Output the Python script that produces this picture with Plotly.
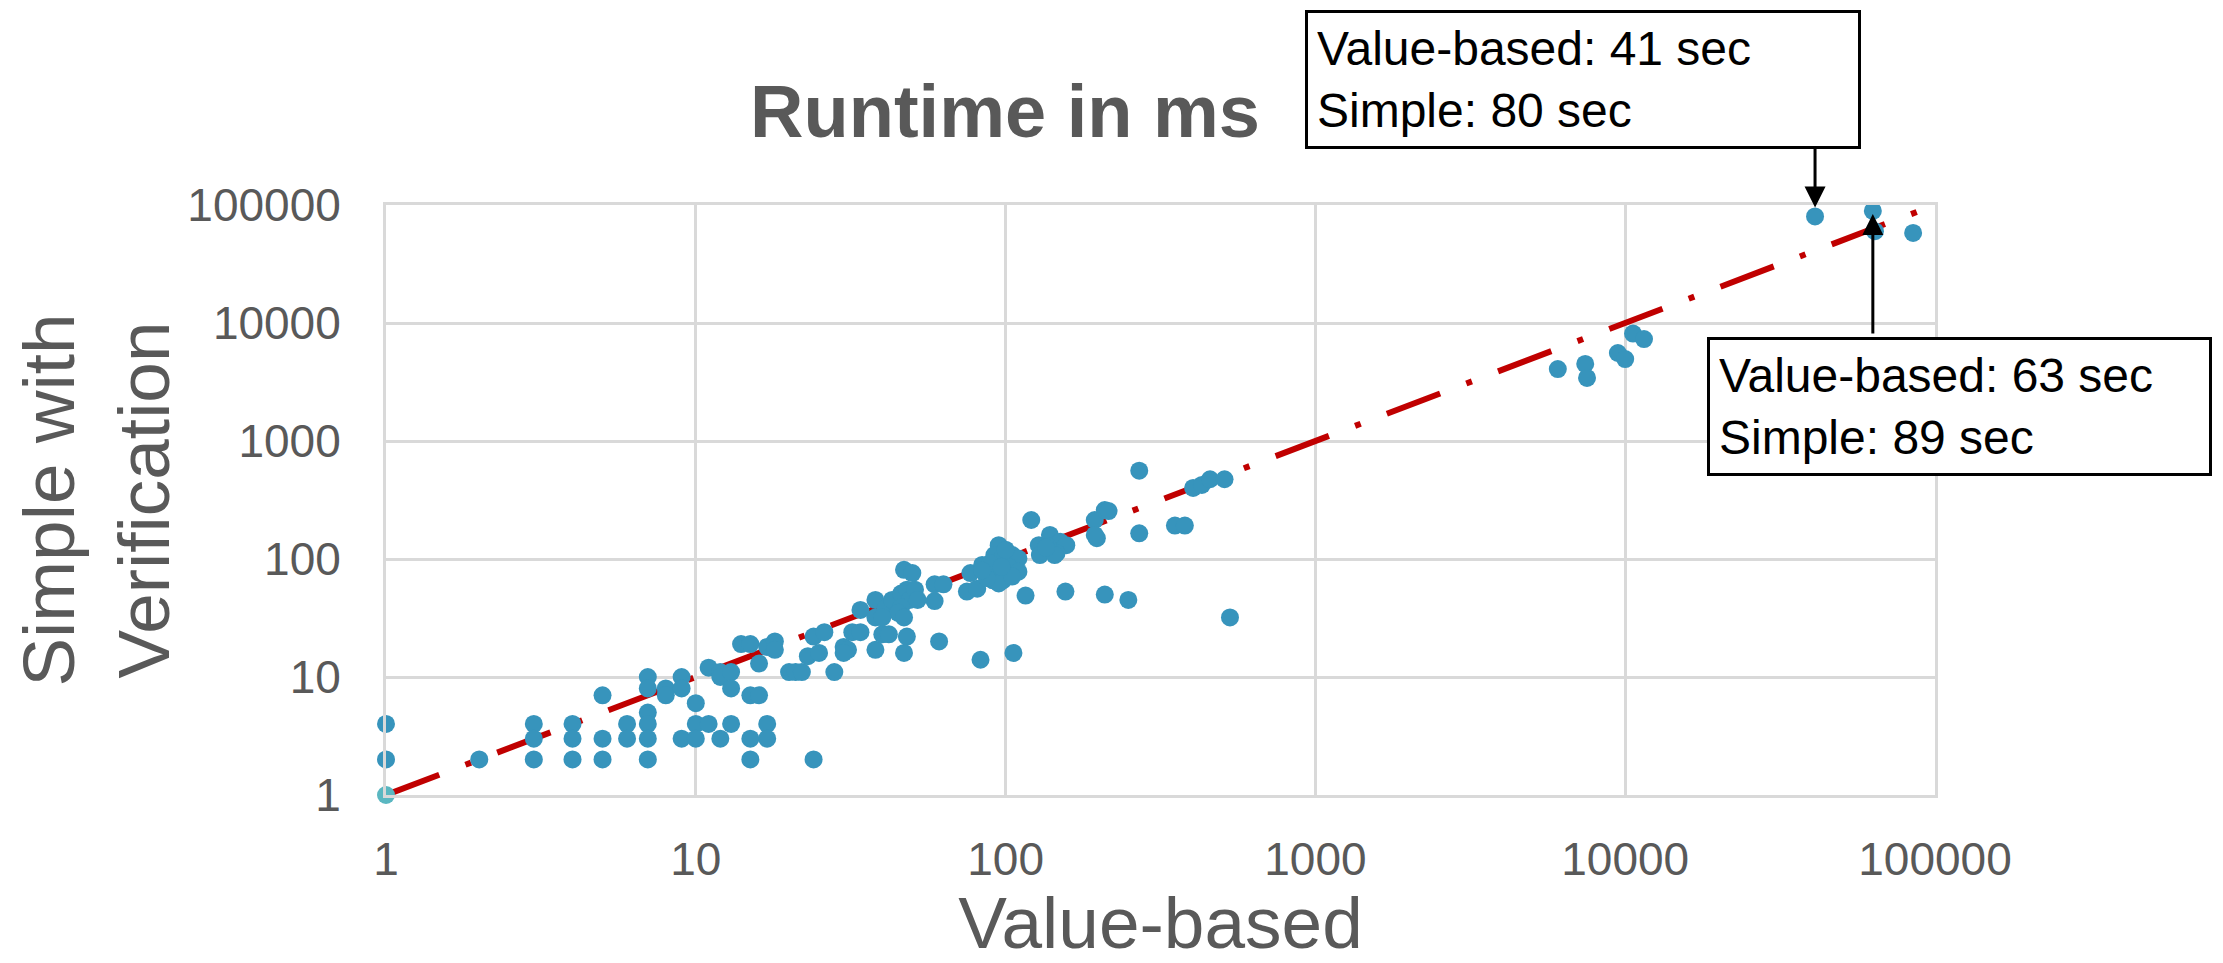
import math
import plotly.graph_objects as go

# ---------------- data ----------------
value_based = [
    1, 1, 2, 3, 3, 3, 4, 4, 4, 5, 5, 5, 6, 6,
    7, 7, 7, 7, 7, 7, 8, 8, 9, 9, 9, 10, 10, 10,
    11, 11, 12, 12, 12, 13, 13, 13, 14, 15, 15, 15, 15,
    16, 16, 17, 17, 17, 18, 18, 20, 21, 22,
    23, 24, 24, 25, 26, 28, 30, 31, 30, 32, 34, 34,
    38, 38, 38, 40, 42, 41, 43, 46, 48, 49, 51, 52, 46, 45, 40,
    47, 48, 47, 47, 50, 59, 59, 63, 61, 75, 81, 77, 84, 87, 83,
    95, 92, 98, 105, 110, 102, 110, 98, 91, 95, 105, 87, 89, 84, 100, 97,
    116, 106, 121, 128, 139, 150, 157, 146, 129, 137, 144, 135,
    156, 194, 209, 215, 197, 194, 209, 249, 270, 270, 352, 379,
    403, 430, 457, 509, 530,
    6060, 7430, 7530, 9470, 10000, 10600, 11500,
    41000, 63000, 64000, 85000,
]
simple_with_verification = [
    4, 2, 2, 4, 3, 2, 4, 3, 2, 7, 3, 2, 4, 3,
    10, 8, 5, 4, 3, 2, 8, 7, 10, 8, 3, 6, 4, 3,
    12, 4, 11, 10, 3, 11, 8, 4, 19, 19, 7, 3, 2,
    13, 7, 18, 4, 3, 20, 17, 11, 11, 11,
    15, 22, 2, 16, 24, 11, 18, 17, 16, 24, 24, 37,
    45, 32, 17, 23, 23, 38, 45, 51, 55, 45, 55, 45, 39, 35, 32,
    32, 22, 16, 81, 76, 44, 61, 61, 20, 53, 56, 76, 89, 81, 14,
    131, 108, 105, 108, 101, 86, 78, 66, 66, 62, 71, 69, 92, 80, 120, 86,
    49, 16, 214, 131, 160, 140, 131, 112, 108, 128, 108, 125,
    53, 214, 260, 255, 150, 160, 50, 45, 560, 165, 192, 192,
    400, 424, 474, 474, 32,
    4070, 4500, 3420, 5570, 4950, 8130, 7310,
    80000, 89000, 60000, 58000,
]
first_x = [1]
first_y = [1]
diag_x = [1, 100000]
diag_y = [1, 100000]
tick_vals = [1, 10, 100, 1000, 10000, 100000]
tick_text = ["1", "10", "100", "1000", "10000", "100000"]
note1_xy = (41000, 80000)
note2_xy = (63000, 89000)
note1_text = "Value-based: 41 sec<br>Simple: 80 sec"
note2_text = "Value-based: 63 sec<br>Simple: 89 sec"

# ---------------- styles ----------------
# the page body has an 8px default margin: draw a figure 8px smaller and
# express all target positions in window pixels minus that offset
OFF = 8
WIN_W, WIN_H = 2223, 963
W, H = WIN_W - OFF, WIN_H - OFF
L, T = 386 - OFF, 205 - OFF
R, B = WIN_W - 1935, WIN_H - 795
GRAY = "#595959"
GRID = "#D9D9D9"
FONT = "Liberation Sans, Arial, sans-serif"
BLUE = "#3794BC"
TEAL = "#5AB7C1"
RED = "#C00000"

fig = go.Figure()
fig.add_trace(go.Scatter(
    x=diag_x, y=diag_y, mode="lines",
    line=dict(color=RED, width=6, dash="57px,28px,6px,28px"),
    hoverinfo="skip", showlegend=False, cliponaxis=False,
))
fig.add_trace(go.Scatter(
    x=value_based, y=simple_with_verification, mode="markers",
    marker=dict(color=BLUE, size=18, line=dict(width=0)),
    showlegend=False, cliponaxis=False,
))
fig.add_trace(go.Scatter(
    x=first_x, y=first_y, mode="markers",
    marker=dict(color=TEAL, size=18, line=dict(width=0)),
    showlegend=False, cliponaxis=False,
))

axis_common = dict(
    type="log", range=[0, 5], tickmode="array",
    tickvals=tick_vals, ticktext=tick_text,
    showgrid=True, gridcolor=GRID, gridwidth=3,
    zeroline=False, showline=True, linecolor=GRID, linewidth=3, mirror=True,
    ticks="", tickfont=dict(family=FONT, size=46, color=GRAY),
)

fig.update_layout(
    width=W, height=H,
    margin=dict(l=L, r=R, t=T, b=B, autoexpand=False),
    paper_bgcolor="white", plot_bgcolor="white",
    title=dict(text="<b>Runtime in ms</b>", x=(1005 - OFF) / W, xanchor="center",
               y=1 - (111 - OFF) / H, yanchor="middle",
               font=dict(family=FONT, size=74, color=GRAY)),
    xaxis=dict(**axis_common, ticklabelstandoff=22,
               title=dict(text="Value-based", standoff=16,
                          font=dict(family=FONT, size=73, color=GRAY))),
    yaxis=dict(**axis_common, ticklabelstandoff=33,
               title=dict(text="Simple with<br>Verification", standoff=18,
                          font=dict(family=FONT, size=73, color=GRAY))),
)

plot_w = W - L - R
plot_h = H - T - B


def px_x(X):
    return (X - OFF - L) / plot_w


def px_y(Y):
    return (H - B - (Y - OFF)) / plot_h


note_font = dict(family=FONT, size=48, color="black")
# text boxes
fig.add_annotation(
    xref="paper", yref="paper", x=px_x(1305), y=px_y(10),
    xanchor="left", yanchor="top", text=note1_text, showarrow=False,
    align="left", font=note_font, bgcolor="white", bordercolor="black",
    borderwidth=3, borderpad=9, width=556 - 6 - 18,
)
fig.add_annotation(
    xref="paper", yref="paper", x=px_x(1707), y=px_y(337),
    xanchor="left", yanchor="top", text=note2_text, showarrow=False,
    align="left", font=note_font, bgcolor="white", bordercolor="black",
    borderwidth=3, borderpad=9, width=505 - 6 - 18,
)
# arrows
fig.add_annotation(
    x=math.log10(note1_xy[0]), y=math.log10(note1_xy[1]), xref="x", yref="y",
    text="", showarrow=True, ax=0, ay=-72, arrowhead=2, arrowsize=1.4,
    arrowwidth=3, arrowcolor="black", standoff=9,
)
fig.add_annotation(
    x=math.log10(note2_xy[0]), y=math.log10(note2_xy[1]), xref="x", yref="y",
    text="", showarrow=True, ax=0, ay=124, arrowhead=2, arrowsize=1.4,
    arrowwidth=3, arrowcolor="black", standoff=3,
)

fig.write_html("out.html")
